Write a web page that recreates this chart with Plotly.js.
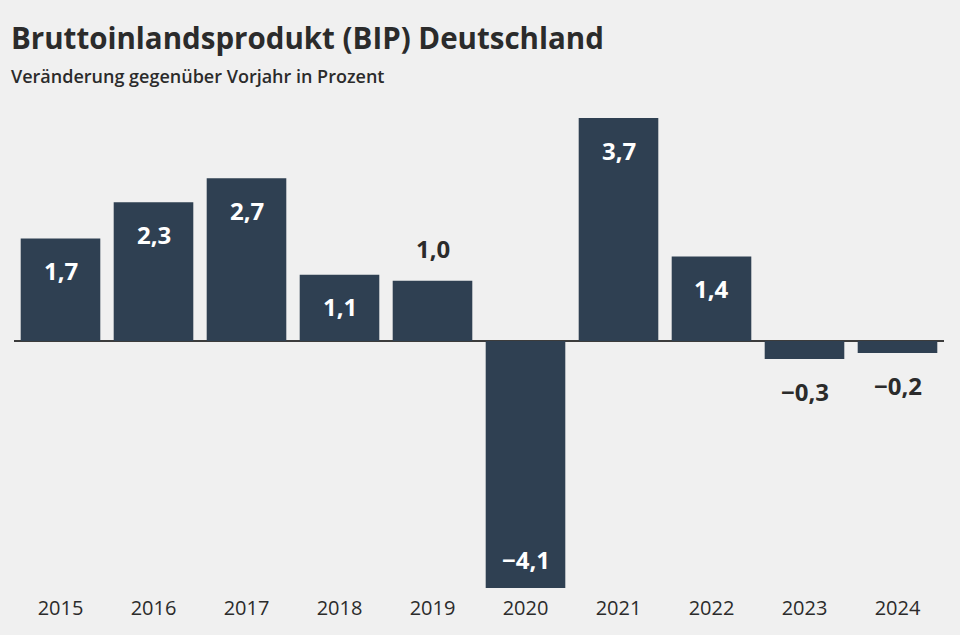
<!DOCTYPE html>
<html>
<head>
<meta charset="utf-8">
<script src="https://cdn.plot.ly/plotly-3.0.1.min.js"></script>
<style>
html,body{margin:0;padding:0;background:#f0f0f0;}
#chart{width:960px;height:635px;}
</style>
</head>
<body>
<div id="chart"></div>
<script>
var years = [2015, 2016, 2017, 2018, 2019, 2020, 2021, 2022, 2023, 2024];
var yearLabels = ['2015','2016','2017','2018','2019','2020','2021','2022','2023','2024'];
var growth = [1.7, 2.3, 2.7, 1.1, 1.0, -4.1, 3.7, 1.4, -0.3, -0.2];
var titleText = 'Bruttoinlandsprodukt (BIP) Deutschland';
var subtitleText = 'Veränderung gegenüber Vorjahr in Prozent';

var FONT = 'Open Sans, Noto Sans, sans-serif';
var BAR = '#2f4052';
var TXT = '#2b2b2b';

function fmt(v){
  var s = Math.abs(v).toFixed(1).replace('.', ',');
  return (v < 0 ? '\u2212' : '') + s;
}

var annotations = years.map(function(yr, i){
  var v = growth[i];
  var inside = Math.abs(v) >= 1.05;
  var shift;
  if (v >= 0) shift = inside ? -32 : 32;
  else shift = inside ? 29 : -32;
  return {
    x: yr, y: v, xref: 'x', yref: 'y',
    text: fmt(v),
    showarrow: false, xanchor: 'center', yanchor: 'middle',
    yshift: shift,
    font: {family: FONT, size: 24, weight: 700, color: inside ? '#ffffff' : TXT}
  };
});

annotations.push({
  xref: 'paper', yref: 'paper', x: 0, y: 1, xshift: -5,
  xanchor: 'left', yanchor: 'middle', showarrow: false,
  yshift: 118 - 37,
  text: titleText,
  font: {family: FONT, size: 29.5, weight: 700, color: TXT}
});
annotations.push({
  xref: 'paper', yref: 'paper', x: 0, y: 1, xshift: -5,
  xanchor: 'left', yanchor: 'middle', showarrow: false,
  yshift: 118 - 76,
  text: subtitleText,
  font: {family: FONT, size: 18, weight: 600, color: TXT}
});

var data = [{
  type: 'bar',
  x: years,
  y: growth,
  marker: {color: BAR, line: {width: 0}},
  hoverinfo: 'skip'
}];

var layout = {
  width: 960, height: 635,
  paper_bgcolor: '#f0f0f0', plot_bgcolor: '#f0f0f0',
  margin: {l: 14, r: 16, t: 118, b: 47, pad: 0},
  bargap: 0.144,
  showlegend: false,
  xaxis: {
    type: 'linear',
    range: [2014.5, 2024.5],
    tickvals: years, ticktext: yearLabels,
    showgrid: false, zeroline: false, showline: false,
    ticks: '', ticklabelstandoff: 6,
    tickfont: {family: FONT, size: 20, color: TXT}
  },
  yaxis: {
    range: [-4.1, 3.7],
    showgrid: false, showticklabels: false, ticks: '',
    zeroline: true, zerolinecolor: '#3c3c3c', zerolinewidth: 2
  },
  annotations: annotations
};

Plotly.newPlot('chart', data, layout, {displayModeBar: false, staticPlot: true});
</script>
</body>
</html>
